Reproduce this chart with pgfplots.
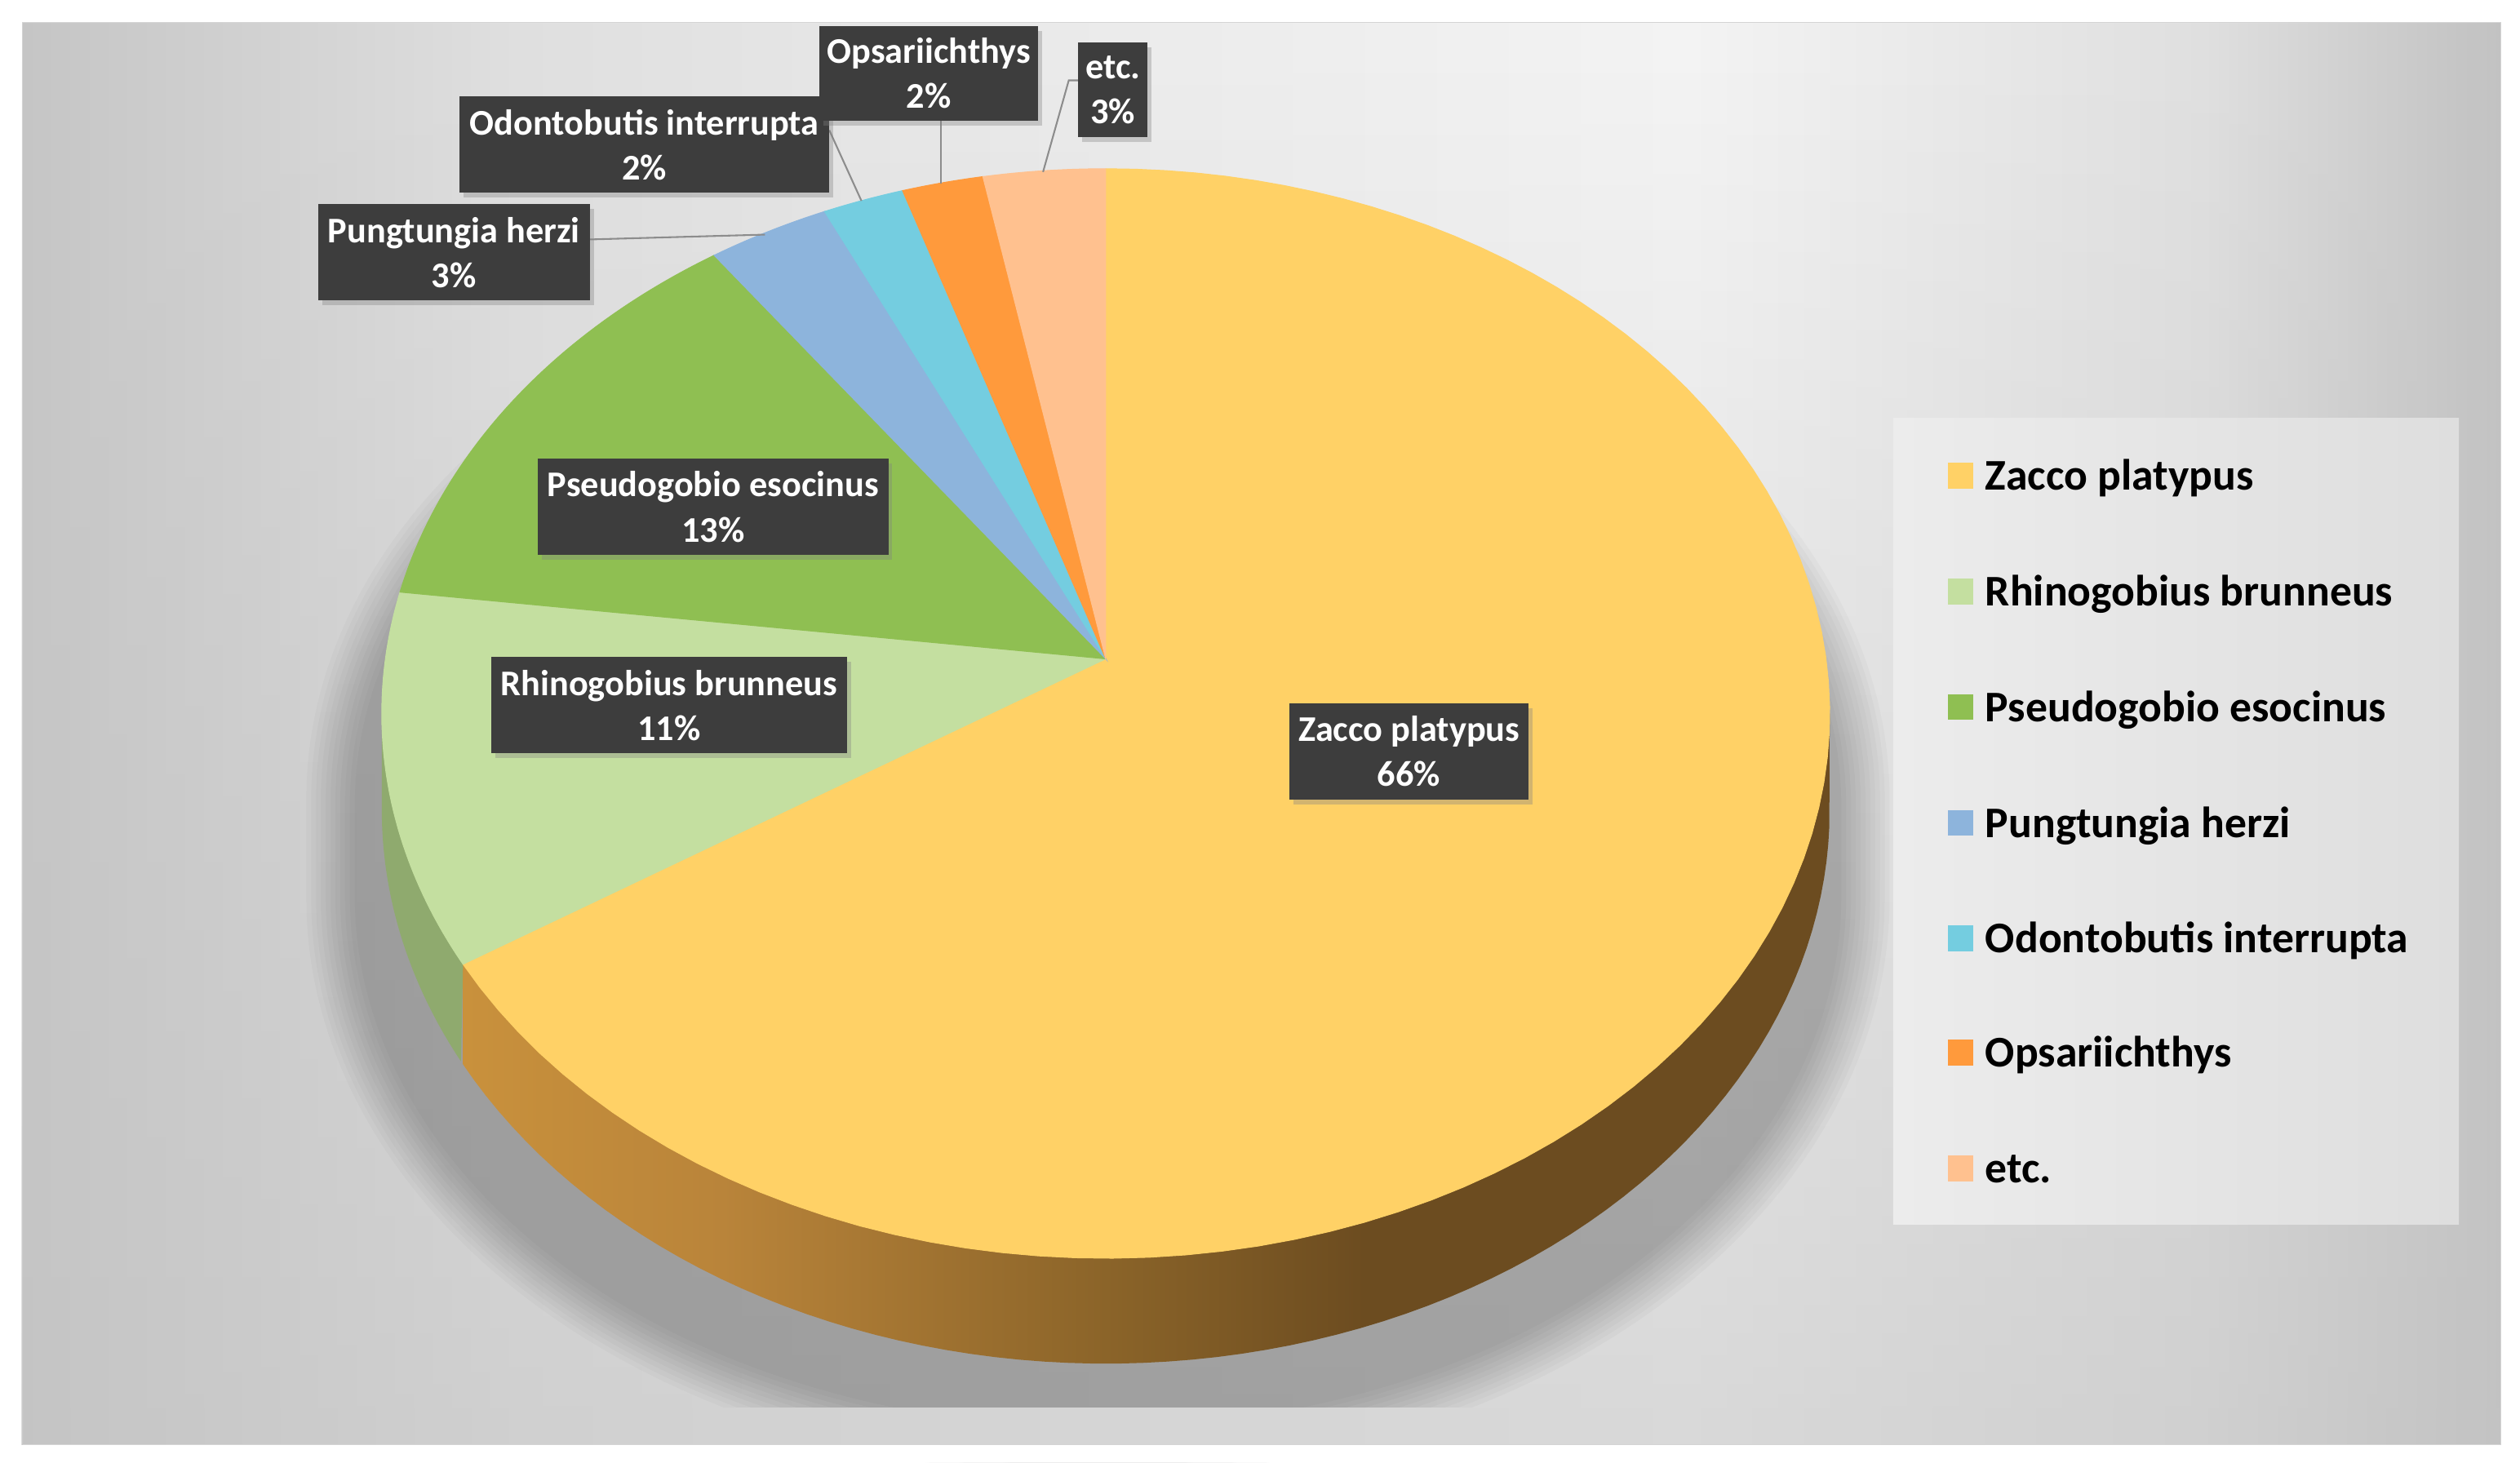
\documentclass[border=0pt]{standalone}
\usepackage{fontspec}
\setmainfont{Carlito}
\usepackage{pgfplots}
\pgfplotsset{compat=1.18}
\usetikzlibrary{fadings,shadows}

% slice colours (top faces)
\definecolor{cZacco}{HTML}{FFD166}
\definecolor{cRhino}{HTML}{C4DFA0}
\definecolor{cPseudo}{HTML}{8FBF52}
\definecolor{cPung}{HTML}{8DB4DC}
\definecolor{cOdonto}{HTML}{74CDE0}
\definecolor{cOpsar}{HTML}{FF9A3C}
\definecolor{cEtc}{HTML}{FFC18F}
\definecolor{cRhinoSide}{HTML}{8FAA6E}
\definecolor{labbox}{HTML}{3D3D3D}
\definecolor{leader}{HTML}{8C8C8C}
\definecolor{framegray}{HTML}{D4D4D4}
\definecolor{bgdark}{HTML}{C4C4C4}
\definecolor{legL}{HTML}{ECECEC}
\definecolor{legR}{HTML}{DEDEDE}

% background: light spot towards the upper right
\definecolor{bg1}{HTML}{C6C6C6}
\definecolor{bg2}{HTML}{E0E0E0}
\definecolor{bg3}{HTML}{ECECEC}
\definecolor{bg4}{HTML}{F4F4F4}
\definecolor{bg5}{HTML}{E0E0E0}
\definecolor{bg6}{HTML}{C2C2C2}
\pgfdeclarehorizontalshading{bgh}{100bp}{color(0bp)=(bg1); color(25bp)=(bg1);
  color(35bp)=(bg2); color(47bp)=(bg3); color(58.6bp)=(bg4); color(69bp)=(bg5);
  color(75bp)=(bg6); color(100bp)=(bg6)}

% side of the big slice, light brown to dark brown
\definecolor{zs1}{HTML}{C9913C}
\definecolor{zs2}{HTML}{B9843A}
\definecolor{zs3}{HTML}{8B6429}
\definecolor{zs4}{HTML}{6C4C20}
\pgfdeclarehorizontalshading{zside}{100bp}{color(0bp)=(zs1); color(25bp)=(zs1);
  color(34.5bp)=(zs2); color(48.5bp)=(zs3); color(58bp)=(zs4); color(100bp)=(zs4)}

\tikzset{
  lab/.style={fill=labbox, text=white, font=\bfseries\fontsize{12.8}{15.9}\selectfont,
    align=center, inner sep=0pt, minimum height=12mm,
    drop shadow={shadow xshift=0.5mm, shadow yshift=-0.6mm, opacity=0.35}},
  leg/.style={anchor=base west, font=\bfseries\fontsize{15.5}{18}\selectfont, text=black, inner sep=0pt},
  lead/.style={draw=leader, line width=0.6pt}
}

% one top-face wedge per species, clockwise from 12 o'clock
\newcommand{\cum}{0}
\newcommand{\slice}[2]{%
  \pgfmathsetmacro{\sliceB}{90-3.6*\cum}%
  \pgfmathsetmacro{\newcum}{\cum+#2}%
  \pgfmathsetmacro{\sliceA}{90-3.6*\newcum}%
  \xdef\cum{\newcum}%
  \edef\doplot{\noexpand\addplot[fill=#1, draw=#1, line width=0.3pt,
    domain=\sliceA:\sliceB, samples=91] ({px(x)},{py(x)}) -- (688,410) -- cycle;}%
  \doplot}
% visible side band between angles #2 and #3
\newcommand{\side}[3]{%
  \edef\doplot{\noexpand\addplot[forget plot, draw=none, #1, domain=0:2, samples=161]
    ({px(bang(x,#2,#3))},{bandy(x,#2,#3)});}%
  \doplot}

\begin{document}
\begin{tikzpicture}
\begin{axis}[width=313.6mm, height=182mm, scale only axis, hide axis, clip=false,
  xmin=0, xmax=1568, ymin=0, ymax=910, y dir=reverse,
  declare function={
    pw(\x)=1+0.1003*sin(\x);
    px(\x)=688+448.2*cos(\x)/pw(\x);
    py(\x)=410-335.6*sin(\x)/pw(\x);
    pb(\x)=py(\x)+59/pw(\x);
    sil(\x)=ifthenelse(sin(\x)>-0.1003,py(\x),pb(\x));
    bang(\y,\z,\w)=ifthenelse(\y<=1,\z+(\w-\z)*\y,\w-(\w-\z)*(\y-1));
    bandy(\y,\z,\w)=ifthenelse(\y<=1,py(bang(\y,\z,\w)),pb(bang(\y,\z,\w)));
    shx(\x)=768+1.06*(px(\x)-768);
    shy(\x)=sil(\x)+55;
    blx(\x,\y)=684+(1+\y/476)*(shx(\x)-684);
    bly(\x,\y)=546+(1+\y/358)*(shy(\x)-546);
  }]

% page and chart area
\fill[white] (0,0) rectangle (1568,910);
\shadedraw[shading=bgh, draw=framegray, line width=0.5pt] (14,14) rectangle (1556,899);
\fill[bgdark, fill opacity=0.57, path fading=north] (14,14) rectangle (1556,899);

% soft shadow under the pie: stacked layers grow outwards for a blurred rim
\pgfplotsinvokeforeach{-15,-12,-9,-6,-3,0,3,6,9,12,15}{
  \addplot[forget plot, overlay, draw=none, fill=black, fill opacity=0.022, domain=0:360, samples=361]
    ({blx(x,#1)},{bly(x,#1)});
}
% floor band below the plot area hides the shadow's lower end
\shade[shading=bgh] (14.5,876) rectangle (1555.5,898.5);
\fill[bgdark, fill opacity=0.56] (14.5,876) rectangle (1555.5,898.5);
\fill[white] (0,899.3) rectangle (1568,910);
\draw[framegray, line width=0.5pt] (14,899) -- (1556,899);

% pie sides
\side{shade, shading=zside}{-147.6}{-5.76}
\side{fill=cRhinoSide}{-174.24}{-147.6}

% pie top faces (percentages)
\slice{cZacco}{66}
\slice{cRhino}{11}
\slice{cPseudo}{13}
\slice{cPung}{3}
\slice{cOdonto}{2}
\slice{cOpsar}{2}
\slice{cEtc}{3}

% leader lines
\draw[lead] (367,149) -- (476,146);
\draw[lead] (516,81) -- (536,125);
\draw[lead] (585.6,75) -- (585.6,114);
\draw[lead] (671,50) -- (665,50) -- (649,107);

% data labels
\node[lab, minimum width=29.7mm] at (876.7,467.7) {Zacco platypus\\66\%};
\node[lab, minimum width=44.3mm] at (416.3,438.8) {Rhinogobius brunneus\\11\%};
\node[lab, minimum width=43.6mm] at (443.7,315.4) {Pseudogobio esocinus\\13\%};
\node[lab, minimum width=33.8mm] at (282.5,157) {Pungtungia herzi\\3\%};
\node[lab, minimum width=46mm] at (401,90) {Odontobutis interrupta\\2\%};
\node[lab, minimum width=27.2mm, minimum height=11.7mm] at (578,45.7) {Opsariichthys\\2\%};
\node[lab, minimum width=8.6mm, minimum height=11.8mm] at (692.5,56) {etc.\\3\%};

% legend
\shade[left color=legL, right color=legR] (1178,260) rectangle (1530,762);
\fill[cZacco]  (1212,288) rectangle (1228,304); \node[leg] at (1235,305) {Zacco platypus};
\fill[cRhino]  (1212,360) rectangle (1228,376); \node[leg] at (1235,377) {Rhinogobius brunneus};
\fill[cPseudo] (1212,432) rectangle (1228,448); \node[leg] at (1235,449) {Pseudogobio esocinus};
\fill[cPung]   (1212,504) rectangle (1228,520); \node[leg] at (1235,521) {Pungtungia herzi};
\fill[cOdonto] (1212,576) rectangle (1228,592); \node[leg] at (1235,593) {Odontobutis interrupta};
\fill[cOpsar]  (1212,647) rectangle (1228,663); \node[leg] at (1235,664) {Opsariichthys};
\fill[cEtc]    (1212,719) rectangle (1228,735); \node[leg] at (1235,736) {etc.};

\end{axis}
\end{tikzpicture}
\end{document}
